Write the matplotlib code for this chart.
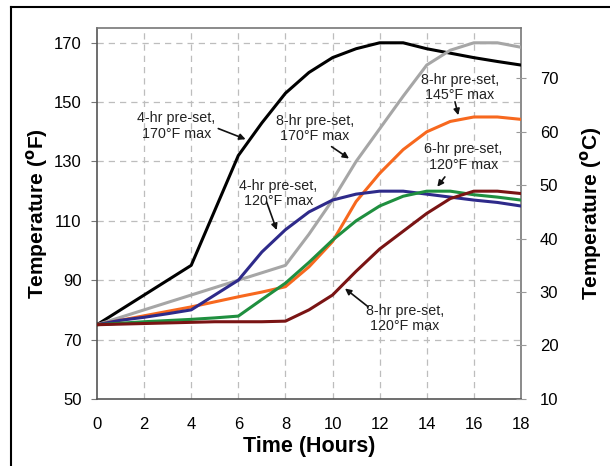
import matplotlib
matplotlib.use("Agg")
import matplotlib.pyplot as plt
from matplotlib.lines import Line2D

plt.rcParams['font.family'] = ['Liberation Sans', 'DejaVu Sans']

# Zeit in Stunden und Temperaturen in °F
hours = list(range(0, 19))

t_4hr_170 = [75, 80, 85, 90, 95, 113.5, 132, 143, 153, 160, 165, 168, 170, 170, 168, 166.5, 165, 163.7, 162.5]
t_8hr_170 = [75, 77.5, 80, 82.5, 85, 87.5, 90, 92.5, 95, 105.5, 117, 130, 141, 152, 162.5, 167.5, 170, 170, 168.5]
t_8hr_145 = [75, 76.5, 78, 79.5, 81, 82.7, 84.4, 86, 87.8, 94.5, 103, 116.5, 126, 134, 140, 143.5, 145, 145, 144.2]
t_4hr_120 = [75, 76.5, 77.5, 78.7, 80, 85, 90, 99.5, 107, 113, 117, 119, 120, 120, 119, 118, 117, 116.2, 115]
t_6hr_120 = [75, 75.5, 76, 76.4, 76.8, 77.3, 77.9, 83.5, 89, 96, 103.5, 110, 115, 118.3, 120, 120, 118.8, 118, 117]
t_8hr_120 = [75, 75.2, 75.4, 75.6, 75.8, 76, 76, 76, 76.2, 80, 85, 93, 100.5, 106.5, 112.5, 117.5, 120, 120, 119.2]

series = [
    (t_4hr_170, '#000000'),
    (t_8hr_170, '#a6a6a6'),
    (t_8hr_145, '#f7681e'),
    (t_4hr_120, '#2e2a8a'),
    (t_6hr_120, '#1f8f3f'),
    (t_8hr_120, '#7a1414'),
]

# Beschriftungen: Text, Textposition, Pfeilende, Pfeilspitze
etiquetas = [
    ("4-hr pre-set,\n170°F max", (3.38, 141.9), (5.15, 141.1), (6.31, 137.5)),
    ("8-hr pre-set,\n170°F max", (9.25, 141.1), (9.96, 135.0), (10.70, 131.0)),
    ("4-hr pre-set,\n120°F max", (7.70, 119.2), (7.20, 116.4), (7.63, 106.9)),
    ("8-hr pre-set,\n145°F max", (15.41, 154.9), (15.20, 150.1), (15.34, 145.6)),
    ("6-hr pre-set,\n120°F max", (15.55, 131.6), (14.77, 124.8), (14.45, 121.5)),
    ("8-hr pre-set,\n120°F max", (13.07, 77.1), (11.52, 81.0), (10.53, 87.2)),
]

fig = plt.figure(figsize=(6.1, 4.66), dpi=100)
ax = fig.add_axes([0.159, 0.144, 0.695, 0.796])

for valores, color in series:
    ax.plot(hours, valores, color=color, lw=2.2, zorder=3)

ax.set_xlim(0, 18)
ax.set_ylim(50, 175)
ax.set_xticks(range(0, 19, 2))
ax.set_yticks(range(50, 171, 20))

# Rejilla discontinua
for x in range(2, 18, 2):
    ax.axvline(x, color='#bdbdbd', lw=0.9, ls=(0, (5, 4)), zorder=1)
for y in range(70, 171, 20):
    ax.axhline(y, color='#bdbdbd', lw=0.9, ls=(0, (5, 4)), zorder=1)

for lado in ['left', 'bottom', 'top', 'right']:
    ax.spines[lado].set_color('#777777')
    ax.spines[lado].set_linewidth(1.2)
ax.spines['left'].set_color('#555555')
ax.spines['bottom'].set_color('#555555')

ax.tick_params(axis='y', direction='out', length=4, pad=7, labelsize=12, color='#777777')
ax.tick_params(axis='x', direction='out', length=0, pad=13, labelsize=12)

ax.set_xlabel("Time (Hours)", fontsize=15.5, fontweight='bold', labelpad=3)
ax.set_ylabel(r"Temperature ($\mathbf{^o}$F)", fontsize=15, fontweight='bold', labelpad=3)

# Eje derecho en °C
ax2 = ax.twinx()
ax2.set_ylim((50 - 32) * 5 / 9, (175 - 32) * 5 / 9)
ax2.set_yticks(range(10, 71, 10))
ax2.tick_params(axis='y', direction='inout', length=7, pad=10, labelsize=12, color='#999999')
for lado in ['left', 'bottom', 'top', 'right']:
    ax2.spines[lado].set_visible(False)
ax2.set_ylabel(r"Temperature ($\mathbf{^o}$C)", fontsize=15, fontweight='bold', labelpad=14)

for texto, pos_txt, cola, punta in etiquetas:
    ax.text(pos_txt[0], pos_txt[1], texto, fontsize=10.3, color='#222222',
            ha='center', va='center', linespacing=1.15, zorder=5)
    ax.annotate("", xy=punta, xytext=cola,
                arrowprops=dict(arrowstyle='-|>', color='#111111', lw=1.2,
                                mutation_scale=9, shrinkA=0, shrinkB=0),
                zorder=5)

# Marco de la figura
fig.add_artist(Line2D([0.018, 0.018], [0.0, 0.985], color='black', lw=1.5))
fig.add_artist(Line2D([0.018, 1.0], [0.985, 0.985], color='black', lw=1.5))

fig.savefig("out.png", dpi=100)
